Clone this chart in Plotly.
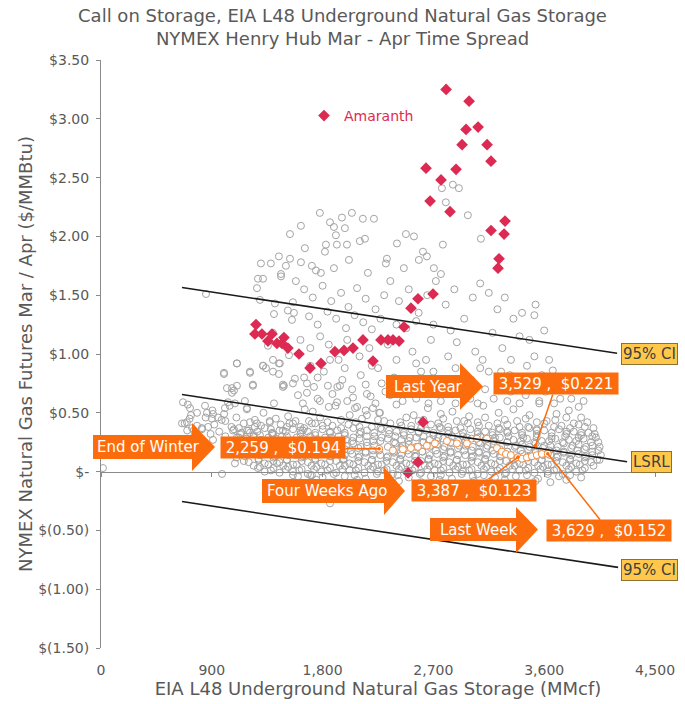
import plotly.graph_objects as go

# ---------------- data ----------------
# weekly history: (storage MMcf, Mar/Apr spread $/MMBtu)
GRAY_UPPER = [
    (1778,2.20),(2038,2.20),(1957,2.16),(2127,2.15),(2217,2.15),(1624,2.09),(1860,2.12),(1892,2.08),
    (1981,2.07),(1535,2.02),(1908,2.01),(2477,2.02),(2542,2.00),(2980,2.18),(2801,2.29),(2769,2.41),
    (2858,2.44),(2907,2.41),(3086,1.98),(2144,1.98),(2103,1.96),(1998,1.93),(1916,1.93),(1827,1.93),
    (2777,1.93),(2404,1.94),(1819,1.87),(1656,1.90),(2615,1.87),(2647,1.83),(2582,1.80),(2322,1.81),
    (2314,1.77),(2014,1.80),(1445,1.83),(1535,1.81),(1624,1.78),(1299,1.77),(1380,1.77),(1502,1.75),
    (1713,1.75),(1746,1.71),(1786,1.69),(1462,1.68),(1892,1.73),(2460,1.73),(2704,1.73),(2761,1.68),
    (2168,1.69),
    (853,1.51),(1275,1.64),(1316,1.64),(1267,1.56),(1462,1.66),(1291,1.46),(1413,1.43),(1559,1.44),
    (1583,1.62),(1405,1.34),(1518,1.37),(1551,1.29),(1567,1.35),(1397,1.18),(1356,1.07),(1527,0.99),
    (1104,0.92),(999,0.84),(1210,0.85),(1316,0.90),(1340,0.88),(1397,0.95),(1453,0.92),(1397,0.85),
    (1445,0.83),(1234,0.74),(1064,0.71),(1486,0.73),(1575,0.79),(1559,0.75),
    (1650,1.55),(1720,1.48),(1800,1.58),(1870,1.45),(1950,1.52),(2010,1.40),(2080,1.56),(2150,1.47),
    (2230,1.38),(2300,1.50),(1690,1.32),(1760,1.25),(1840,1.36),(1910,1.30),(1990,1.22),(2060,1.33),
    (2130,1.27),(2200,1.21),(2270,1.30),
    (1620,1.12),(1700,1.05),(1780,1.15),(1850,1.08),(1930,0.95),(2000,1.12),(2100,0.98),(2180,1.05),
    (2250,0.88),(1650,0.80),(1730,0.72),(1810,0.85),(1880,0.66),(1960,0.78),(2040,0.70),(2110,0.82),
    (2190,0.64),(2280,0.75),(1600,0.65),(1700,0.90),(1980,0.88),
    (2350,1.62),(2420,1.45),(2500,1.55),(2580,1.35),(2650,1.50),(2720,1.62),(2800,1.42),(2870,1.55),
    (2950,1.30),(3020,1.48),(3080,1.60),(2400,1.25),(2480,1.22),(2560,1.28),(2700,1.25),(2840,1.20),
    (2330,1.08),(2400,0.95),(2460,0.72),(2530,1.02),(2600,0.85),(2680,1.12),(2740,0.78),(2820,0.98),
    (2890,1.10),(2960,0.82),(3040,1.02),(2350,0.65),(2560,0.62),(2780,0.66),(2900,0.70),(3000,0.62),
    (3080,0.88),(2640,0.95),
    (3150,1.52),(3220,1.38),(3280,1.48),(3350,1.30),(3420,1.35),(3480,1.12),(3530,1.42),(3180,1.18),
    (3260,1.05),(3330,0.95),(3400,1.15),(3460,0.90),(3520,0.98),(3580,0.82),(3640,0.95),(3700,0.78),
    (3760,0.70),(3820,0.62),(3150,0.85),(3230,0.72),(3300,0.60),(3380,0.75),(3450,0.65),(3560,0.60),
    (3680,0.58),(3880,0.55),(3600,1.20),(3520,1.33),
]

GRAY_MID = [
    (1640,0.58),(1760,0.62),(1850,0.55),(1920,0.72),(2000,0.60),(2080,0.55),(2150,0.74),(2230,0.58),
    (2310,0.68),(2380,0.80),(2450,0.60),(2510,0.75),(2590,0.70),(2660,0.58),(2700,0.85),(2760,0.60),
    (2830,0.75),(2880,0.58),(2940,0.68),(3010,0.78),(3060,0.58),(3120,0.70),(3190,0.62),(3250,0.85),
    (3330,0.68),(3400,0.58),(3470,0.78),(3540,0.70),(3610,0.68),(3670,0.86),(3730,0.62),(3790,0.80),
    (3850,0.70),(3920,0.60),(3960,0.75),(3320,0.82),(3100,0.95),(2880,0.88),(2560,0.92),(2200,0.90),
    (1860,0.95),(1760,0.80),
    (666,0.59),(698,0.42),(658,0.41),(731,0.48),(723,0.54),(845,0.56),(861,0.50),(910,0.49),
    (950,0.46),(901,0.45),(820,0.37),(755,0.35),(1007,0.54),(1023,0.71),(1064,0.67),(1104,0.73),
    (1080,0.69),(999,0.83),(1104,0.92),(1234,0.73),(1031,0.59),(1088,0.58),(1169,0.60),(1186,0.54),
    (1186,0.35),(1267,0.41),(1372,0.42),(1072,0.35),(1104,0.29),(1210,0.33),(1291,0.31),(1397,0.32),
    (1478,0.35),(1640,0.35),(1713,0.41),(1559,0.41),(1478,0.74),(1673,0.75),(1673,0.67),(1843,0.73),
    (1941,0.73),(1778,0.60),(1917,0.59),(2047,0.63),(2160,0.66),(2063,0.54),(2209,0.54),(2266,0.50),
    (2160,0.48),(1316,0.90),(1210,0.84),(1445,0.92),(1478,0.72),(910,0.27),
]

GRAY_BAND = [
    (705,0.57),(905,0.52),(1045,0.56),(1185,0.53),(1405,0.58),(1655,0.53),(1905,0.56),(2150,0.52),
    (2400,0.57),(2655,0.54),(2855,0.51),(3105,0.56),(3350,0.53),(3560,0.58),(3800,0.52),
    (780,0.50),(1000,0.49),(1320,0.50),(1520,0.47),(1720,0.51),(2020,0.48),(2260,0.50),(2540,0.48),
    (2760,0.49),(2990,0.47),(3230,0.50),(3480,0.48),(3700,0.49),(3900,0.46),
    (720,0.45),(850,0.46),(980,0.44),(1100,0.46),(1250,0.44),(1420,0.45),(1580,0.43),(1780,0.46),
    (1950,0.44),(2120,0.45),(2300,0.43),(2480,0.46),(2620,0.44),(2780,0.45),(2950,0.43),(3120,0.46),
    (3280,0.44),(3450,0.45),(3620,0.43),(3780,0.46),(3950,0.42),
    (1010,0.43),(1210,0.42),(1370,0.43),(1530,0.41),(1690,0.43),(1840,0.42),(2070,0.42),(2250,0.44),
    (2430,0.42),(2580,0.43),(2740,0.41),(2890,0.43),(3060,0.42),(3220,0.41),(3380,0.43),(3540,0.42),
    (3690,0.44),(3840,0.41),
    (680,0.41),(780,0.39),(920,0.40),(1060,0.38),(1160,0.41),(1300,0.39),(1460,0.40),(1620,0.38),
    (1740,0.41),(1880,0.39),(2010,0.40),(2200,0.38),(2350,0.41),(2520,0.39),(2680,0.40),(2820,0.38),
    (2980,0.41),(3150,0.39),(3300,0.40),(3470,0.38),(3600,0.41),(3740,0.39),(3880,0.40),(4000,0.37),
    (740,0.37),(870,0.38),(1120,0.37),(1250,0.38),(1380,0.36),(1510,0.38),(1650,0.37),(1800,0.39),
    (1950,0.37),(2100,0.38),(2270,0.37),(2440,0.39),(2600,0.37),(2750,0.38),(2920,0.37),(3070,0.39),
    (3230,0.37),(3400,0.38),(3540,0.36),(3680,0.38),(3810,0.37),(3930,0.38),
    (700,0.35),(820,0.36),(960,0.34),(1080,0.36),(1200,0.35),(1330,0.37),(1450,0.35),(1560,0.36),
    (1680,0.34),(1800,0.36),(1920,0.35),(2050,0.37),(2160,0.35),(2280,0.36),(2400,0.34),(2520,0.36),
    (2640,0.35),(2760,0.37),(2880,0.35),(3000,0.36),(3120,0.34),(3240,0.36),(3360,0.35),(3480,0.37),
    (3600,0.35),(3720,0.36),(3840,0.34),(3960,0.33),
    (1140,0.33),(1270,0.34),(1390,0.33),(1500,0.34),(1620,0.35),(1740,0.33),(1860,0.34),(1980,0.33),
    (2110,0.34),(2220,0.33),(2340,0.35),(2460,0.33),(2580,0.34),(2700,0.33),(2820,0.35),(2940,0.33),
    (3060,0.34),(3180,0.33),(3300,0.34),(3420,0.33),(3540,0.35),(3660,0.33),(3780,0.34),(3900,0.33),
    (4010,0.32),
    (760,0.31),(890,0.32),(1010,0.30),(1130,0.32),(1240,0.31),(1390,0.32),(1510,0.30),(1620,0.32),
    (1740,0.31),(1860,0.33),(1980,0.31),(2100,0.32),(2220,0.30),(2340,0.32),(2460,0.31),(2580,0.33),
    (2700,0.31),(2820,0.32),(2940,0.30),(3060,0.32),(3180,0.31),(3300,0.33),(3420,0.31),(3540,0.32),
    (3660,0.30),(3780,0.32),(3900,0.31),(4020,0.29),
    (1120,0.29),(1240,0.30),(1360,0.29),(1470,0.30),(1590,0.29),(1700,0.30),(1820,0.29),(1930,0.30),
    (2050,0.29),(2160,0.30),(2280,0.29),(2390,0.30),(2510,0.29),(2620,0.30),(2740,0.29),(2850,0.30),
    (2970,0.29),(3080,0.30),(3200,0.29),(3310,0.30),(3430,0.29),(3540,0.29),(3660,0.28),(3770,0.30),
    (3880,0.29),(3990,0.30),
    (1180,0.28),(1300,0.27),(1420,0.28),(1530,0.26),(1640,0.28),(1760,0.27),(1870,0.29),(1990,0.27),
    (2100,0.28),(2210,0.26),(2330,0.28),(2440,0.27),(2560,0.29),(2670,0.27),(2780,0.28),(2900,0.26),
    (3010,0.28),(3120,0.27),(3240,0.29),(3350,0.27),(3460,0.28),(3580,0.26),(3690,0.28),(3800,0.27),
    (3920,0.28),(4040,0.25),
    (1120,0.26),(1240,0.25),(1360,0.26),(1480,0.25),(1580,0.26),(1700,0.25),(1810,0.26),(1930,0.25),
    (2040,0.26),(2160,0.25),(2270,0.26),(2380,0.25),(2500,0.26),(2610,0.25),(2730,0.26),(2840,0.25),
    (2960,0.26),(3070,0.25),(3190,0.26),(3300,0.25),(3410,0.26),(3520,0.25),(3640,0.26),(3750,0.25),
    (3860,0.26),(3980,0.25),
    (1060,0.24),(1240,0.23),(1360,0.24),(1470,0.22),(1590,0.24),(1700,0.23),(1820,0.25),(1930,0.23),
    (2050,0.24),(2160,0.22),(2390,0.24),(2500,0.23),(2620,0.25),(2730,0.23),(2850,0.24),(2960,0.22),
    (3080,0.24),(3190,0.23),(3300,0.25),(3420,0.23),(3530,0.24),(3650,0.22),(3760,0.24),(3880,0.23),
    (3990,0.22),
    (1190,0.21),(1300,0.22),(1420,0.21),(1530,0.22),(1650,0.21),(1760,0.22),(1880,0.21),(1990,0.22),
    (2110,0.21),(2220,0.22),(2330,0.21),(2450,0.22),(2560,0.21),(2680,0.22),(2790,0.21),(2910,0.22),
    (3020,0.21),(3140,0.22),(3250,0.21),(3370,0.22),(3480,0.21),(3600,0.22),(3710,0.21),(3830,0.22),
    (3940,0.21),(4050,0.21),
    (1150,0.20),(1290,0.19),(1410,0.20),(1520,0.18),(1640,0.20),(1750,0.19),(1870,0.21),(1980,0.19),
    (2090,0.20),(2210,0.18),(2440,0.20),(2550,0.19),(2670,0.21),(2780,0.19),(2900,0.20),(3010,0.18),
    (3130,0.20),(3240,0.19),(3360,0.21),(3470,0.19),(3590,0.20),(3700,0.18),(3820,0.20),(3930,0.19),
    (4040,0.18),
    (1220,0.17),(1340,0.18),(1460,0.17),(1570,0.18),(1690,0.17),(1800,0.18),(1920,0.17),(2030,0.18),
    (2150,0.17),(2260,0.18),(2380,0.17),(2490,0.18),(2610,0.17),(2720,0.18),(2840,0.17),(2950,0.18),
    (3070,0.17),(3180,0.18),(3300,0.17),(3410,0.18),(3530,0.17),(3640,0.18),(3760,0.17),(3870,0.18),
    (3990,0.17),
    (1230,0.16),(1350,0.15),(1460,0.16),(1580,0.14),(1690,0.16),(1810,0.15),(1920,0.17),(2040,0.15),
    (2150,0.16),(2270,0.14),(2380,0.16),(2500,0.15),(2610,0.17),(2730,0.15),(2840,0.16),(2960,0.14),
    (3070,0.16),(3190,0.15),(3300,0.17),(3420,0.15),(3530,0.16),(3650,0.14),(3760,0.16),(3880,0.15),
    (3990,0.14),
    (1170,0.13),(1290,0.14),(1410,0.13),(1520,0.14),(1640,0.13),(1750,0.14),(1870,0.13),(1980,0.14),
    (2100,0.13),(2210,0.14),(2330,0.13),(2440,0.14),(2560,0.13),(2670,0.14),(2790,0.13),(2900,0.14),
    (3020,0.13),(3130,0.14),(3250,0.13),(3360,0.14),(3480,0.13),(3590,0.14),(3710,0.13),(3820,0.14),
    (3940,0.13),(4060,0.14),
    (1100,0.12),(1280,0.11),(1400,0.12),(1510,0.10),(1630,0.12),(1740,0.11),(1860,0.13),(1970,0.11),
    (2090,0.12),(2200,0.10),(2320,0.12),(2430,0.11),(2550,0.13),(2660,0.11),(2780,0.12),(2890,0.10),
    (3010,0.12),(3120,0.11),(3240,0.13),(3350,0.11),(3470,0.12),(3580,0.10),(3700,0.12),(3810,0.11),
    (3930,0.12),(4050,0.10),
    (1160,0.09),(1280,0.10),(1400,0.09),(1510,0.10),(1630,0.09),(1740,0.10),(1860,0.09),(1970,0.10),
    (2090,0.09),(2200,0.10),(2320,0.09),(2430,0.10),(2550,0.09),(2660,0.10),(2780,0.09),(2890,0.10),
    (3010,0.09),(3120,0.10),(3240,0.09),(3350,0.10),(3470,0.09),(3580,0.10),(3700,0.09),(3810,0.10),
    (3930,0.09),(4030,0.10),
    (1200,0.08),(1330,0.07),(1450,0.08),(1560,0.06),(1680,0.08),(1790,0.07),(1910,0.09),(2020,0.07),
    (2140,0.08),(2250,0.06),(2370,0.08),(2480,0.07),(2600,0.09),(2710,0.07),(2830,0.08),(2940,0.06),
    (3060,0.08),(3170,0.07),(3290,0.09),(3400,0.07),(3520,0.08),(3630,0.06),(3750,0.08),(3860,0.07),
    (3980,0.08),
    (1240,0.05),(1360,0.06),(1480,0.05),(1590,0.06),(1710,0.05),(1820,0.06),(1940,0.05),(2050,0.06),
    (2170,0.05),(2280,0.06),(2400,0.05),(2510,0.06),(2630,0.05),(2740,0.06),(2860,0.05),(2970,0.06),
    (3090,0.05),(3200,0.06),(3320,0.05),(3430,0.06),(3550,0.05),(3660,0.06),(3780,0.05),(3890,0.06),
    (4000,0.05),
    (1290,0.04),(1400,0.03),(1520,0.04),(1630,0.02),(1750,0.04),(1860,0.03),(1980,0.05),(2090,0.03),
    (2210,0.04),(2320,0.02),(2440,0.04),(2550,0.03),(2670,0.05),(2780,0.03),(2900,0.04),(3010,0.02),
    (3130,0.04),(3240,0.03),(3360,0.05),(3470,0.03),(3590,0.04),(3700,0.02),(3820,0.04),(3930,0.03),
    (1380,0.01),(1500,0.02),(1610,0.01),(1730,0.02),(1840,0.01),(1960,0.02),(2070,0.01),(2190,0.02),
    (2300,0.01),(2420,0.02),(2530,0.01),(2650,0.02),(2760,0.01),(2880,0.02),(2990,0.01),(3110,0.02),
    (3220,0.01),(3340,0.02),(3450,0.01),(3570,0.02),(3680,0.01),(3800,0.02),(3910,0.01),
    (1330,0.00),(1450,-0.01),(1560,0.00),(1680,-0.02),(1790,0.00),(1910,-0.01),(2020,0.01),(2140,-0.01),
    (2250,0.00),(2370,-0.02),(2480,0.00),(2600,-0.01),(2710,0.01),(2830,-0.01),(2940,0.00),(3060,-0.02),
    (3170,0.00),(3290,-0.01),(3400,0.01),(3520,-0.01),(3630,0.00),(3750,-0.02),(3860,0.00),
    (1700,-0.03),(1890,-0.02),(2060,-0.03),(2240,-0.02),(2410,-0.03),(2590,-0.02),(2760,-0.03),
    (2930,-0.02),(3110,-0.03),(3280,-0.02),(3460,-0.03),(3630,-0.02),(3810,-0.03),
    (1600,-0.04),(1800,-0.05),(1980,-0.04),(2150,-0.06),(2330,-0.04),(2500,-0.05),(2680,-0.04),
    (2850,-0.06),(3020,-0.04),(3200,-0.05),(3370,-0.04),(3550,-0.06),(3720,-0.04),(3900,-0.05),
    (1750,-0.07),(2080,-0.07),(2420,-0.08),(2750,-0.07),(3030,-0.08),(3280,-0.07),(3530,-0.08),
    (3780,-0.07),
    (1900,-0.09),(2250,-0.10),(2600,-0.09),(2900,-0.11),(3150,-0.09),(3400,-0.10),(3650,-0.09),
    # outliers
    (16,0.03),(1860,-0.27),(983,-0.02),(1088,0.07),(1275,0.03),(2100,-0.15),(3500,-0.15),
    (1429,0.07),(1559,-0.03),(1713,-0.03),
]

AMARANTH_POINTS = [
    (1259,1.25),(1250,1.17),(1307,1.17),(1356,1.11),(1389,1.17),(1429,1.09),(1470,1.09),(1486,1.14),
    (1518,1.05),(1608,1.00),(1698,0.88),(1787,0.92),(1900,1.02),(1974,1.03),(2047,1.05),(2128,1.12),
    (2209,0.94),(2274,1.12),(2331,1.12),(2372,1.12),(2421,1.11),(2461,1.23),(2518,1.39),(2575,1.47),
    (2697,1.51),(2640,2.58),(2673,2.30),(2762,2.48),(2803,3.25),(2835,2.21),(2884,2.57),(2933,2.78),
    (2965,2.91),(2990,3.15),(3063,2.93),(3136,2.78),(3168,2.64),(3168,2.05),(3274,2.02),(3282,2.13),
    (3233,1.81),(3225,1.73),(2616,0.42),(2575,0.08),(2494,-0.01),
]

CURRENT_YEAR = [
    (2259,0.194),(2371,0.18),(2452,0.19),(2517,0.20),(2574,0.21),(2647,0.22),(2712,0.24),(2810,0.26),
    (2891,0.24),(2972,0.24),(3053,0.28),(3134,0.28),(3216,0.20),(3256,0.17),(3289,0.15),(3329,0.14),
    (3387,0.123),(3419,0.11),(3459,0.12),(3500,0.13),(3540,0.14),(3581,0.15),(3629,0.152),
]

CALLOUT_NAMES = ["End of Winter", "Four Weeks Ago", "Last Year", "Last Week"]
CALLOUT_X = [2259, 3387, 3529, 3629]
CALLOUT_Y = [0.194, 0.123, 0.221, 0.152]

LSRL_INTERCEPT = 0.759
LSRL_SLOPE = -0.000158
CI_HALF_WIDTH = 0.91
LINE_X_START = 658
LINE_X_END = {"upper": 4192, "lsrl": 4273, "lower": 4200}

X_TICKS = [0, 900, 1800, 2700, 3600, 4500]
X_TICK_TEXT = ["0", "900", "1,800", "2,700", "3,600", "4,500"]
Y_TICKS = [-1.5, -1.0, -0.5, 0.0, 0.5, 1.0, 1.5, 2.0, 2.5, 3.0, 3.5]
Y_TICK_TEXT = ["$(1.50)", "$(1.00)", "$(0.50)", "$-", "$0.50", "$1.00", "$1.50",
               "$2.00", "$2.50", "$3.00", "$3.50"]

# ---------------- styling / geometry ----------------
W, H = 685, 704
L, R, T, B = 101, 655, 60, 648          # plot area in pixels
FONT = "DejaVu Sans"
GREY_TXT = "#595959"
AXIS_COL = "#8a8a8a"
ORANGE = "#FD6C0C"
RED = "#DC2A52"
GOLD = "#FFC84A"

def pxx(px):
    return (px - L) / (R - L)

def pxy(py):
    return (B - py) / (B - T)

fig = go.Figure()

gray = GRAY_UPPER + GRAY_MID + GRAY_BAND
fig.add_trace(go.Scatter(x=[p[0] for p in gray], y=[p[1] for p in gray], mode="markers",
                         showlegend=False, hoverinfo="skip",
                         marker=dict(symbol="circle-open", size=7,
                                     line=dict(color="#a3a3a3", width=1), color="#a3a3a3")))

fig.add_trace(go.Scatter(x=[p[0] for p in CURRENT_YEAR], y=[p[1] for p in CURRENT_YEAR],
                         mode="markers", showlegend=False, hoverinfo="skip",
                         marker=dict(symbol="circle", size=7, color="white",
                                     line=dict(color="#F58A3C", width=1))))

# regression line and 95% confidence band
for key, off in (("upper", CI_HALF_WIDTH), ("lsrl", 0.0), ("lower", -CI_HALF_WIDTH)):
    xs = [LINE_X_START, LINE_X_END[key]]
    ys = [LSRL_INTERCEPT + off + LSRL_SLOPE * v for v in xs]
    fig.add_trace(go.Scatter(x=xs, y=ys, mode="lines", showlegend=False, hoverinfo="skip",
                             line=dict(color="#1a1a1a", width=1.6)))

fig.add_trace(go.Scatter(x=[p[0] for p in AMARANTH_POINTS], y=[p[1] for p in AMARANTH_POINTS],
                         mode="markers", name="Amaranth", showlegend=True, hoverinfo="skip",
                         marker=dict(symbol="diamond", size=9, color=RED, line=dict(width=0))))

# dummy trace so the zero-crossing axis is rendered
fig.add_trace(go.Scatter(x=[None], y=[None], xaxis="x2", yaxis="y", showlegend=False,
                         hoverinfo="skip"))

# ---------------- callouts ----------------
BOX_OFFSETS = [(-96, -1), (-44, 33), (21, -62), (61, 77)]
for (xv, yv, (dx, dy)) in zip(CALLOUT_X, CALLOUT_Y, BOX_OFFSETS):
    fig.add_annotation(x=xv, y=yv, xref="x", yref="y", ax=dx, ay=dy,
                       text=f"{xv:,} ,  ${yv:.3f}", showarrow=True,
                       arrowhead=6, arrowsize=0.6, arrowwidth=1.5, arrowcolor=ORANGE,
                       bgcolor=ORANGE, borderpad=3, width=118, height=15,
                       font=dict(family=FONT, size=15, color="white"))

# block arrows: left, body top, body bottom, head base, head top, head bottom, tip
ARROWS = [
    (93, 435, 459, 192, 423, 471, 215),
    (262, 479, 503, 384, 467, 515, 405),
    (386, 375, 398, 460, 363, 410, 483),
    (430, 518, 541, 516, 507, 553, 538),
]
LABEL_CENTERS = [148, 327, 428, 478]
for name, (x0, bt, bb, hb, ht, hbt, tip), lc in zip(CALLOUT_NAMES, ARROWS, LABEL_CENTERS):
    ym = (bt + bb) / 2
    path = (f"M {pxx(x0)},{pxy(bt)} L {pxx(hb)},{pxy(bt)} L {pxx(hb)},{pxy(ht)} "
            f"L {pxx(tip)},{pxy(ym)} L {pxx(hb)},{pxy(hbt)} L {pxx(hb)},{pxy(bb)} "
            f"L {pxx(x0)},{pxy(bb)} Z")
    fig.add_shape(type="path", path=path, xref="paper", yref="paper",
                  fillcolor=ORANGE, line=dict(width=0), layer="above")
    fig.add_annotation(x=pxx(lc), y=pxy(ym), xref="paper", yref="paper",
                       xanchor="center", yanchor="middle",
                       text=name, showarrow=False,
                       font=dict(family=FONT, size=15, color="white"))

# line labels
LINE_LABELS = [("95% CI", 4224, 1.003), ("LSRL", 4305, 0.085), ("95% CI", 4224, -0.833)]
for txt, xv, yv in LINE_LABELS:
    fig.add_annotation(x=xv, y=yv, xref="x", yref="y", xanchor="left", yanchor="middle",
                       text=txt, showarrow=False, bgcolor=GOLD, bordercolor="#8a7033",
                       borderwidth=1, borderpad=1,
                       font=dict(family=FONT, size=15, color="#404040"))

fig.update_layout(
    width=W, height=H,
    margin=dict(l=L, r=W - R, t=T, b=H - B, autoexpand=False),
    paper_bgcolor="white", plot_bgcolor="white",
    font=dict(family=FONT, color=GREY_TXT, size=14),
    title=dict(text="Call on Storage, EIA L48 Underground Natural Gas Storage<br>"
                    "NYMEX Henry Hub Mar - Apr Time Spread",
               x=0.5, xref="container", xanchor="center",
               y=1 - 22 / H, yref="container", yanchor="middle",
               font=dict(family=FONT, size=18, color=GREY_TXT)),
    showlegend=True,
    legend=dict(x=pxx(304), y=pxy(116), xanchor="left", yanchor="middle",
                bgcolor="rgba(0,0,0,0)", borderwidth=0, itemwidth=30,
                font=dict(family=FONT, size=14, color=RED)),
    xaxis=dict(range=[0, 4500], tickvals=X_TICKS, ticktext=X_TICK_TEXT,
               showline=False, ticks="", showgrid=False, zeroline=False,
               ticklabelstandoff=12, automargin=False,
               title=dict(text="EIA L48 Underground Natural Gas Storage (MMcf)",
                          font=dict(family=FONT, size=18, color=GREY_TXT), standoff=4)),
    xaxis2=dict(range=[0, 4500], overlaying="x", anchor="free",
                position=1.5 / 5.0, tickvals=X_TICKS, showticklabels=False,
                showline=True, linecolor=AXIS_COL, linewidth=1,
                ticks="outside", ticklen=4, tickcolor=AXIS_COL,
                showgrid=False, zeroline=False, automargin=False),
    yaxis=dict(range=[-1.5, 3.5], tickvals=Y_TICKS, ticktext=Y_TICK_TEXT,
               showline=True, linecolor=AXIS_COL, linewidth=1,
               ticks="outside", ticklen=4, tickcolor=AXIS_COL,
               showgrid=False, zeroline=False, ticklabelstandoff=4, automargin=False,
               title=dict(text="NYMEX Natural Gas Futures Mar / Apr ($/MMBtu)",
                          font=dict(family=FONT, size=18, color=GREY_TXT), standoff=0)),
)

fig.write_html("out.html", config={"displayModeBar": False},
               post_script="document.body.style.margin='0px';")
